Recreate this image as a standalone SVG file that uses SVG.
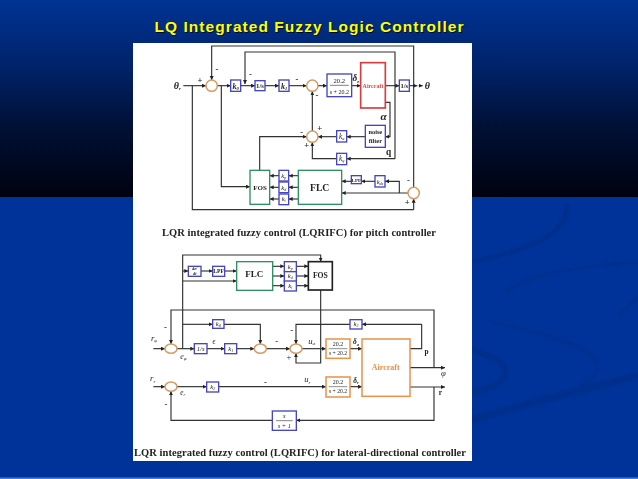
<svg xmlns="http://www.w3.org/2000/svg" width="638" height="479" viewBox="0 0 638 479">
<style>
.c{fill:none;stroke:#333;stroke-width:3.5;marker-end:url(#a)}
.n{fill:none;stroke:#333;stroke-width:3.5}
.b{fill:#fff;stroke:#4444c0;stroke-width:4}
.g{fill:#fff;stroke:#2f9060;stroke-width:4}
.o{fill:#fff;stroke:#e8924a;stroke-width:4.5}
.s{fill:#fff;stroke:#d89860;stroke-width:4.5}
.t{font-family:"Liberation Serif",serif;fill:#222;text-anchor:middle}
.bd{font-weight:bold}
.it{font-style:italic}
.sw{fill:none;stroke:#002f8c;stroke-linecap:round}
</style>
<defs>
<linearGradient id="bg" x1="0" y1="0" x2="0" y2="1"><stop offset="0" stop-color="#003394"/><stop offset=".3" stop-color="#00256f"/><stop offset=".65" stop-color="#001035"/><stop offset="1" stop-color="#00020f"/></linearGradient>
<marker id="a" markerUnits="userSpaceOnUse" markerWidth="16" markerHeight="14" refX="12" refY="6" orient="auto"><path d="M0 0L12 6L0 12z" fill="#222"/></marker>
<filter id="bl" x="-2%" y="-2%" width="104%" height="104%"><feGaussianBlur stdDeviation="0.5"/></filter>
<filter id="sb" x="-10%" y="-10%" width="120%" height="120%"><feGaussianBlur stdDeviation="1.5"/></filter>
</defs>
<rect width="638" height="479" fill="#003399"/>
<rect width="638" height="197" fill="url(#bg)"/>
<rect y="477.500" width="638" height="1.500" fill="#4a80d8"/>
<g filter="url(#sb)">
<path class="sw" stroke-width="5" d="M472 262C520 250 566 240 567 206"/>
<path class="sw" stroke-width="3" d="M506 292C530 272 590 265 636 262"/>
<path class="sw" stroke-width="3" d="M620 313C628 308 632 302 636 298"/>
<path class="sw" stroke-width="3" d="M490 322C540 330 600 350 597 368C595 380 585 382 580 386"/>
<path class="sw" stroke-width="6" d="M472 350C500 358 512 368 503 378C495 388 482 390 472 393"/>
<path class="sw" stroke-width="8" d="M472 420C530 402 590 388 636 376"/>
</g>
<text x="309" y="32" text-anchor="middle" font-family="'Liberation Sans',sans-serif" font-weight="bold" font-size="15.500" textLength="309" fill="#000" opacity=".7" transform="translate(1 1)">LQ Integrated Fuzzy Logic Controller</text>
<text x="309" y="32" text-anchor="middle" font-family="'Liberation Sans',sans-serif" font-weight="bold" font-size="15.500" textLength="309" fill="#ffff00">LQ Integrated Fuzzy Logic Controller</text>
<rect x="133" y="43" width="339" height="418" fill="#fff"/>
<g filter="url(#bl)">
<g transform="translate(130 40) scale(.33333)">
<g id="pitch-connectors">
<path class="c" d="M160 137H228"/><path class="n" d="M187 137V509H851"/><path class="c" d="M851 509V476"/>
<path class="c" d="M851 442V18H245V120"/>
<path class="c" d="M795 356V36H345V132"/><path class="c" d="M795 356H650"/>
<path class="c" d="M262 137H302"/><path class="c" d="M332 137H375"/><path class="c" d="M405 137H447"/><path class="c" d="M477 137H530"/><path class="c" d="M564 137H591"/><path class="c" d="M665 137H692"/><path class="c" d="M766 137H808"/><path class="c" d="M838 137H862" /><path class="c" d="M866 137H878"/>
<path class="c" d="M766 187H780V290H766"/><path class="c" d="M706 290H650"/><path class="c" d="M620 290H564"/>
<path class="c" d="M620 356H547V307"/><path class="c" d="M547 273V154"/>
<path class="c" d="M389 391V290H530"/><path class="c" d="M274 137V440H360"/>
<path class="c" d="M505 407H476"/><path class="c" d="M505 442H476"/><path class="c" d="M505 477H476"/>
<path class="c" d="M447 407H419"/><path class="c" d="M447 442H419"/><path class="c" d="M447 477H419"/>
<path class="c" d="M664 424H635"/><path class="c" d="M735 424H694"/><path class="c" d="M808 459V424H765"/><path class="c" d="M834 459H635"/>
</g>
<g id="p-sum1"><circle class="s" cx="245" cy="137" r="17"/></g>
<g id="p-sum2"><circle class="s" cx="547" cy="137" r="17"/></g>
<g id="p-sum3"><circle class="s" cx="547" cy="290" r="17"/></g>
<g id="p-sum4"><circle class="s" cx="851" cy="459" r="17"/></g>
<g id="p-ktheta"><rect class="b" x="302" y="120" width="30" height="34"/><text class="t bd it" x="317" y="146" font-size="24">k<tspan font-size="13" dy="3">θ</tspan></text></g>
<g id="p-int1"><rect class="b" x="375" y="122" width="30" height="30"/><text class="t bd" x="390" y="145" font-size="20">1/s</text></g>
<g id="p-k1"><rect class="b" x="447" y="120" width="30" height="34"/><text class="t bd it" x="462" y="146" font-size="24">k<tspan font-size="13" dy="3">1</tspan></text></g>
<g id="p-act"><rect class="b" x="591" y="102" width="74" height="68"/><text class="t" x="628" y="128" font-size="20">20.2</text><path d="M600 136H656" stroke="#444" stroke-width="2"/><text class="t" x="628" y="161" font-size="18">s + 20.2</text></g>
<g id="p-aircraft"><rect x="692" y="68" width="74" height="136" fill="#fff" stroke="#d83c3c" stroke-width="5"/><text class="t bd" x="729" y="144" font-size="18" style="fill:#e04848">Aircraft</text></g>
<g id="p-int2"><rect class="b" x="808" y="120" width="30" height="34"/><text class="t bd" x="823" y="145" font-size="20">1/s</text></g>
<g id="p-noise"><rect class="b" x="706" y="256" width="60" height="66"/><text class="t bd" x="736" y="283" font-size="19">noise</text><text class="t bd" x="736" y="308" font-size="19">filter</text></g>
<g id="p-ka"><rect class="b" x="620" y="272" width="30" height="34"/><text class="t it" x="635" y="297" font-size="22">k<tspan font-size="13" dy="3">α</tspan></text></g>
<g id="p-kq"><rect class="b" x="620" y="340" width="30" height="34"/><text class="t it" x="635" y="364" font-size="22">k<tspan font-size="13" dy="3">q</tspan></text></g>
<g id="p-fos"><rect class="g" x="360" y="391" width="59" height="102"/><text class="t bd" x="390" y="449" font-size="21">FOS</text></g>
<g id="p-kp"><rect class="b" x="447" y="391" width="29" height="32"/><text class="t it" x="461" y="414" font-size="20">k<tspan font-size="12" dy="3">p</tspan></text></g>
<g id="p-kd"><rect class="b" x="447" y="426" width="29" height="32"/><text class="t it" x="461" y="449" font-size="20">k<tspan font-size="12" dy="3">d</tspan></text></g>
<g id="p-ki"><rect class="b" x="447" y="462" width="29" height="32"/><text class="t it" x="461" y="484" font-size="20">k<tspan font-size="12" dy="3">i</tspan></text></g>
<g id="p-flc"><rect class="g" x="505" y="391" width="130" height="102"/><text class="t bd" x="569" y="452" font-size="29">FLC</text></g>
<g id="p-lpf"><rect class="b" x="664" y="407" width="30" height="24"/><text class="t bd" x="679" y="425" font-size="15">LPF</text></g>
<g id="p-kde"><rect class="b" x="735" y="407" width="30" height="34"/><text class="t it" x="750" y="431" font-size="20">k<tspan font-size="12" dy="3">de</tspan></text></g>
<g font-size="26" class="bd">
<text class="t" x="210" y="128">+</text><text class="t bd" x="261" y="96">-</text><text class="t bd" x="361" y="110">-</text><text class="t bd" x="501" y="126">-</text><text class="t bd" x="561" y="174">-</text><text class="t" x="569" y="273">+</text><text class="t bd" x="515" y="284">-</text><text class="t" x="530" y="324">+</text><text class="t bd" x="835" y="430">-</text><text class="t" x="832" y="494">+</text>
<text class="t bd it" x="142" y="146" font-size="30">θ<tspan font-size="15" dy="5">r</tspan></text>
<text class="t it" x="892" y="147" font-size="30">θ</text>
<text class="t bd it" x="678" y="124" font-size="28">δ<tspan font-size="14" dy="5">e</tspan></text>
<text class="t it" x="761" y="240" font-size="34">α</text>
<text class="t" x="776" y="346" font-size="28">q</text>
</g>
</g>
<g transform="translate(130 245) scale(.33333)">
<g id="lateral-connectors">
<path class="c" d="M70 311H105"/><path class="c" d="M141 311H193"/><path class="c" d="M231 311H284"/><path class="c" d="M320 311H373"/><path class="c" d="M409 311H480"/><path class="c" d="M516 311H588"/><path class="c" d="M660 311H696"/>
<path class="n" d="M840 311H875V238"/><path class="c" d="M875 238H696"/><path class="c" d="M660 238H498V297"/>
<path class="c" d="M158 311V30H572V50"/><path class="c" d="M158 78H175"/><path class="c" d="M213 78H248"/><path class="c" d="M284 78H320"/><path class="c" d="M158 108H320"/>
<path class="c" d="M428 64H463"/><path class="c" d="M428 93H463"/><path class="c" d="M428 122H463"/><path class="c" d="M499 64H535"/><path class="c" d="M499 93H535"/><path class="c" d="M499 122H535"/>
<path class="c" d="M572 135V354H498V325"/>
<path class="c" d="M158 238H248"/><path class="c" d="M282 238H391V297"/>
<path class="c" d="M912 368V195H123V297"/><path class="c" d="M840 368H945"/><path class="c" d="M840 426H945"/>
<path class="c" d="M912 426V526H499"/><path class="c" d="M427 526H123V439"/>
<path class="c" d="M70 425H105"/><path class="c" d="M141 425H230"/><path class="c" d="M266 425H588"/><path class="c" d="M660 425H696"/>
</g>
<g id="l-sum1"><ellipse class="s" cx="123" cy="311" rx="18" ry="14"/></g>
<g id="l-sum2"><ellipse class="s" cx="391" cy="311" rx="18" ry="14"/></g>
<g id="l-sum3"><ellipse class="s" cx="498" cy="311" rx="18" ry="14"/></g>
<g id="l-sum4"><ellipse class="s" cx="123" cy="425" rx="18" ry="14"/></g>
<g id="l-deriv"><rect class="b" x="175" y="64" width="38" height="30"/><text class="t bd it" x="194" y="76" font-size="13">de/</text><text class="t bd it" x="194" y="90" font-size="13">dt</text></g>
<g id="l-lpf"><rect class="b" x="248" y="64" width="36" height="30"/><text class="t bd" x="266" y="85" font-size="17">LPF</text></g>
<g id="l-flc"><rect class="g" x="320" y="50" width="108" height="86"/><text class="t bd" x="373" y="97" font-size="27">FLC</text></g>
<g id="l-kp"><rect class="b" x="463" y="50" width="36" height="30"/><text class="t it" x="481" y="71" font-size="20">k<tspan font-size="12" dy="3">p</tspan></text></g>
<g id="l-kd"><rect class="b" x="463" y="80" width="36" height="30"/><text class="t it" x="481" y="100" font-size="20">k<tspan font-size="12" dy="3">d</tspan></text></g>
<g id="l-ki"><rect class="b" x="463" y="108" width="36" height="30"/><text class="t it" x="481" y="129" font-size="20">k<tspan font-size="12" dy="3">i</tspan></text></g>
<g id="l-fos"><rect x="535" y="50" width="72" height="85" fill="#fff" stroke="#222" stroke-width="5"/><text class="t bd" x="571" y="99" font-size="23">FOS</text></g>
<g id="l-k4"><rect class="b" x="248" y="224" width="34" height="26"/><text class="t it" x="265" y="243" font-size="20">k<tspan font-size="12" dy="3">4</tspan></text></g>
<g id="l-int"><rect class="b" x="193" y="296" width="38" height="30"/><text class="t it" x="212" y="317" font-size="20">1/s</text></g>
<g id="l-k1"><rect class="b" x="284" y="296" width="36" height="30"/><text class="t it" x="302" y="317" font-size="20">k<tspan font-size="12" dy="3">1</tspan></text></g>
<g id="l-k3"><rect class="b" x="660" y="224" width="36" height="28"/><text class="t it" x="678" y="244" font-size="20">k<tspan font-size="12" dy="3">3</tspan></text></g>
<g id="l-act1"><rect class="o" x="588" y="282" width="72" height="58"/><text class="t" x="624" y="303" font-size="18">20.2</text><path d="M596 311H652" stroke="#555" stroke-width="2"/><text class="t" x="624" y="331" font-size="17">s + 20.2</text></g>
<g id="l-act2"><rect class="o" x="588" y="396" width="72" height="60"/><text class="t" x="624" y="417" font-size="18">20.2</text><path d="M596 425H652" stroke="#555" stroke-width="2"/><text class="t" x="624" y="445" font-size="17">s + 20.2</text></g>
<g id="l-aircraft"><rect class="o" x="696" y="282" width="144" height="172" stroke-width="5"/><text class="bd" text-anchor="middle" font-family="'Liberation Serif',serif" x="767" y="375" font-size="24" fill="#e8904a">Aircraft</text></g>
<g id="l-k2"><rect class="b" x="230" y="411" width="36" height="30"/><text class="t it" x="248" y="432" font-size="20">k<tspan font-size="12" dy="3">2</tspan></text></g>
<g id="l-wash"><rect class="b" x="427" y="498" width="72" height="58"/><text class="t it" x="463" y="520" font-size="20">s</text><path d="M438 527H488" stroke="#444" stroke-width="2"/><text class="t it" x="463" y="548" font-size="19">s + 1</text></g>
<text class="t bd" x="106" y="254" font-size="26">-</text><text class="t bd" x="440" y="297" font-size="26">-</text><text class="t bd" x="485" y="264" font-size="26">-</text><text class="t" x="477" y="346" font-size="26">+</text><text class="t bd" x="406" y="419" font-size="26">-</text><text class="t bd" x="108" y="485" font-size="26">-</text>
<text class="t it" x="252" y="297" font-size="22">ϵ</text>
<text class="t it" x="72" y="288" font-size="26">r<tspan font-size="15" dy="4">φ</tspan></text>
<text class="t it" x="160" y="341" font-size="24">e<tspan font-size="15" dy="4">φ</tspan></text>
<text class="t it" x="68" y="409" font-size="26">r<tspan font-size="15" dy="4">r</tspan></text>
<text class="t it" x="158" y="449" font-size="22">e<tspan font-size="13" dy="4">r</tspan></text>
<text class="t it" x="545" y="297" font-size="26">u<tspan font-size="15" dy="4">a</tspan></text>
<text class="t it" x="532" y="412" font-size="26">u<tspan font-size="15" dy="4">r</tspan></text>
<text class="t bd it" x="678" y="298" font-size="22">δ<tspan font-size="13" dy="4">a</tspan></text>
<text class="t bd it" x="678" y="413" font-size="22">δ<tspan font-size="13" dy="4">r</tspan></text>
<text class="t bd" x="890" y="327" font-size="22">p</text>
<text class="t it" x="940" y="394" font-size="26">φ</text>
<text class="t bd" x="931" y="449" font-size="22">r</text>
</g>
<text class="t bd" x="299" y="236" font-size="10.500" textLength="274">LQR integrated fuzzy control (LQRIFC) for pitch controller</text>
<text class="t bd" x="300" y="456" font-size="10.500" textLength="332">LQR integrated fuzzy control (LQRIFC) for lateral-directional controller</text>
</g>
</svg>
